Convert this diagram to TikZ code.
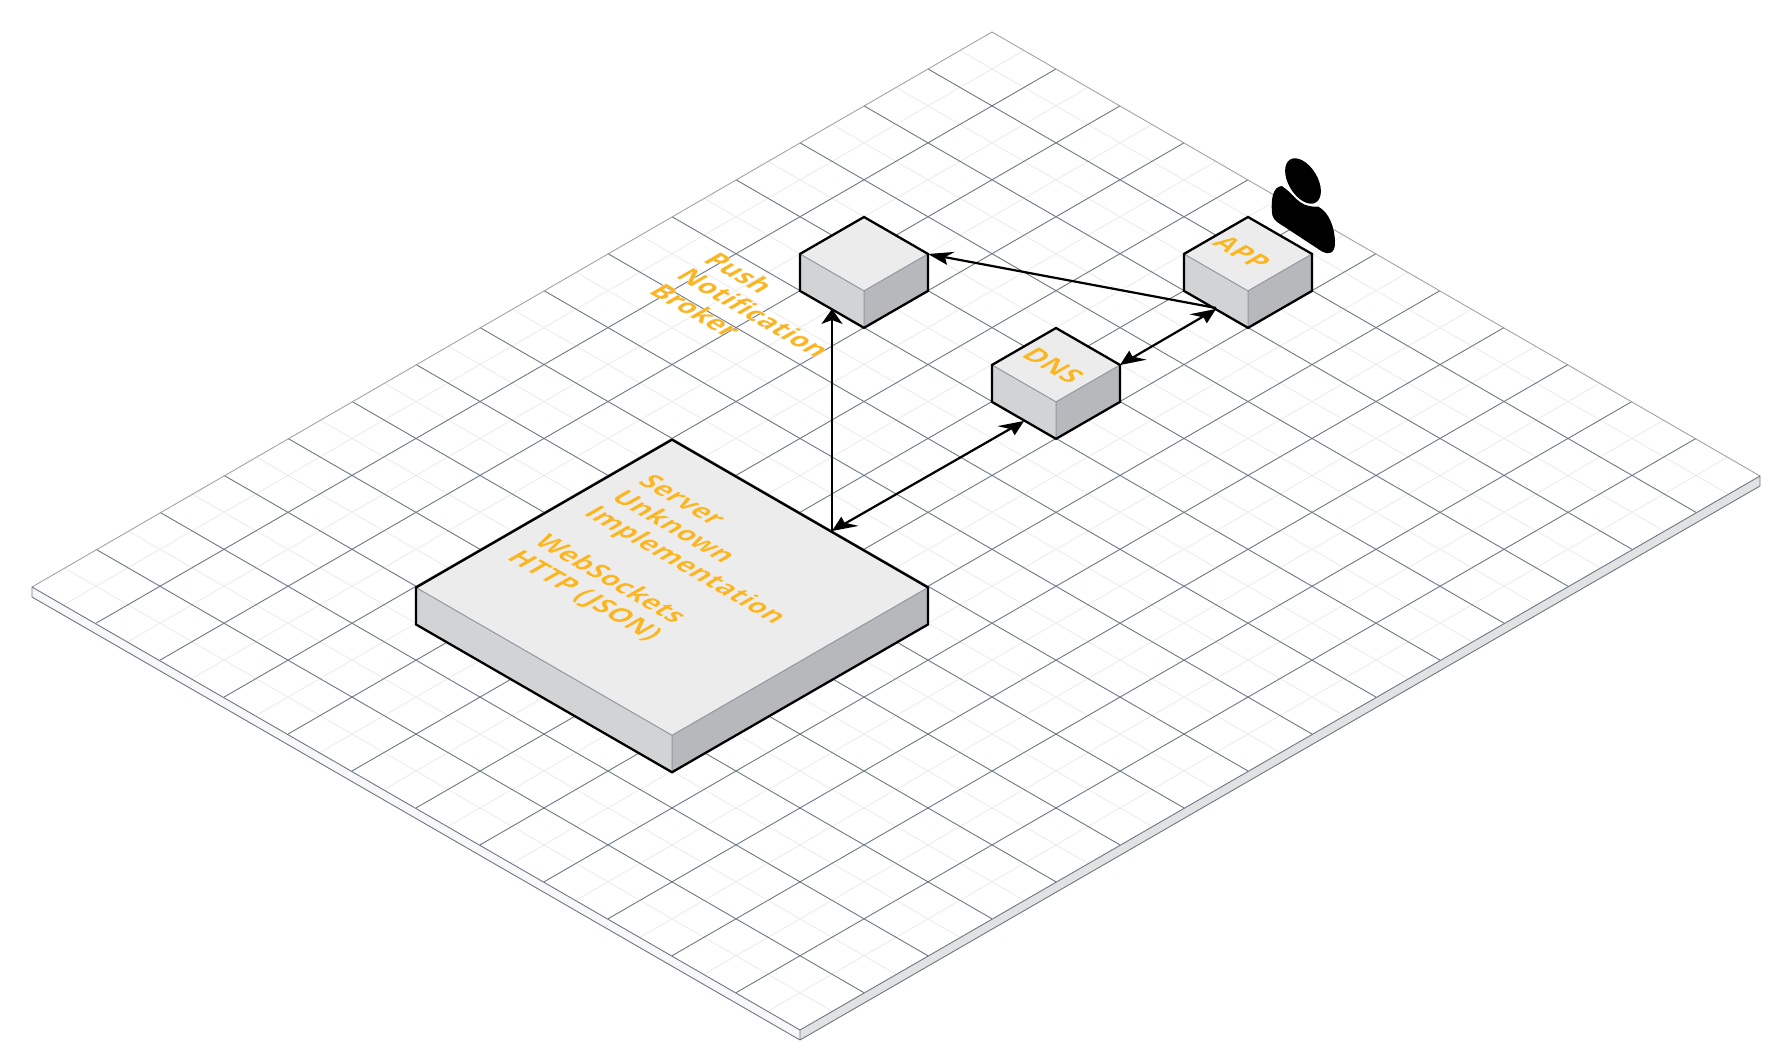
\documentclass[tikz,border=0pt]{standalone}
\usepackage{fontspec}
\setmainfont{Open Sans}
\newfontfamily\isofont{Open Sans}[UprightFont=*/B,UprightFeatures={FakeBold=0.5}]
\usetikzlibrary{arrows.meta}
\definecolor{gmajor}{HTML}{6D7885}
\definecolor{gminor}{HTML}{ECEDEE}
\definecolor{gedge}{HTML}{A0A4A9}
\definecolor{slabL}{HTML}{F8F8F8}
\definecolor{slabR}{HTML}{E1E2E2}
\definecolor{ftop}{HTML}{ECECED}
\definecolor{fleft}{HTML}{D2D3D5}
\definecolor{fright}{HTML}{B7B8BC}
\definecolor{inner}{HTML}{8F98A3}
\newcommand{\labon}{\special{pdf:bcolor [0.98 0.71 0.14] [1 1 1]}}
\newcommand{\laboff}{\special{pdf:ecolor}}
\pgfdeclarearrow{
  name=isoAxis,
  setup code={\pgfarrowssettipend{0pt}\pgfarrowssetlineend{-7pt}\pgfarrowssetbackend{-12.8pt}\pgfarrowssetvisualbackend{-7pt}%
    \pgfarrowshullpoint{0pt}{0pt}\pgfarrowshullpoint{-12.8pt}{4.4pt}\pgfarrowshullpoint{-7.6pt}{-3.9pt}},
  drawing code={\pgfpathmoveto{\pgfqpoint{0pt}{0pt}}\pgfpathlineto{\pgfqpoint{-12.8pt}{4.4pt}}%
    \pgfpathlineto{\pgfqpoint{-7.5pt}{-0.5pt}}\pgfpathlineto{\pgfqpoint{-7.6pt}{-3.9pt}}\pgfpathclose\pgfusepathqfill},
}
\pgfdeclarearrow{
  name=isoUp,
  setup code={\pgfarrowssettipend{0pt}\pgfarrowssetlineend{-5pt}\pgfarrowssetbackend{-7.5pt}\pgfarrowssetvisualbackend{-5pt}%
    \pgfarrowshullpoint{0pt}{0pt}\pgfarrowshullpoint{-7.5pt}{5.3pt}\pgfarrowshullpoint{-7.5pt}{-5.3pt}},
  drawing code={\pgfpathmoveto{\pgfqpoint{0pt}{0pt}}\pgfpathlineto{\pgfqpoint{-7.5pt}{5.3pt}}%
    \pgfpathlineto{\pgfqpoint{-5.5pt}{0pt}}\pgfpathlineto{\pgfqpoint{-7.5pt}{-5.3pt}}\pgfpathclose\pgfusepathqfill},
}
\pgfdeclarearrow{
  name=isoSlant,
  setup code={\pgfarrowssettipend{0pt}\pgfarrowssetlineend{-8.5pt}\pgfarrowssetbackend{-13pt}\pgfarrowssetvisualbackend{-8.5pt}%
    \pgfarrowshullpoint{0pt}{0pt}\pgfarrowshullpoint{-13pt}{-3.5pt}\pgfarrowshullpoint{-10.35pt}{3.6pt}},
  drawing code={\pgfpathmoveto{\pgfqpoint{0pt}{0pt}}\pgfpathlineto{\pgfqpoint{-13pt}{-3.5pt}}%
    \pgfpathlineto{\pgfqpoint{-8.6pt}{-0.1pt}}\pgfpathlineto{\pgfqpoint{-10.35pt}{3.6pt}}\pgfpathclose\pgfusepathqfill},
}
\tikzset{
  x=.5pt,y=-.5pt,
  major/.style={draw=gmajor,line width=.45pt},
  minor/.style={draw=gminor,line width=.45pt},
  edgeback/.style={draw=gedge,line width=.45pt},
  slabface/.style={draw=gmajor,line width=.45pt,line join=round},
  conn/.style={draw=black,line width=1.1pt},
  outline/.style={draw=black,line width=1.15pt,line join=miter},
  innerline/.style={draw=inner,line width=.5pt},
  isotext/.style={transform shape,cm={.866,-.5,.866,.5,(0,0)},inner sep=0pt,
    font=\isofont\fontsize{13.6}{15.7}\selectfont,align=left},
}
% #1 name, #2 top x, #3 top y, #4 cells
\newcommand{\isobox}[4]{%
  \pgfmathsetmacro{\dx}{64*#4}\pgfmathsetmacro{\dy}{36.95*#4}
  \coordinate (#1T) at (#2,#3);
  \coordinate (#1L) at (#2-\dx,#3+\dy);
  \coordinate (#1R) at (#2+\dx,#3+\dy);
  \coordinate (#1F) at (#2,#3+2*\dy);
  \coordinate (#1LB) at (#2-\dx,#3+\dy+36.95);
  \coordinate (#1RB) at (#2+\dx,#3+\dy+36.95);
  \coordinate (#1B) at (#2,#3+2*\dy+36.95);
  \fill[ftop] (#1T)--(#1L)--(#1F)--(#1R)--cycle;
  \fill[fleft] (#1L)--(#1F)--(#1B)--(#1LB)--cycle;
  \fill[fright] (#1R)--(#1F)--(#1B)--(#1RB)--cycle;
  \draw[innerline] (#1L)--(#1F)--(#1R) (#1F)--(#1B);
  \draw[outline] (#1T)--(#1L)--(#1LB)--(#1B)--(#1RB)--(#1R)--cycle;
}
\begin{document}
\begin{tikzpicture}
\useasboundingbox (0,0) rectangle (1792,1063);
\fill[white] (0,0) rectangle (1792,1063);
% slab sides
\coordinate (gT) at (992,32);
\coordinate (gL) at (32,587);
\coordinate (gF) at (800,1030);
\coordinate (gR) at (1760,476);
\coordinate (gLb) at (32,597);
\coordinate (gFb) at (800,1040);
\coordinate (gRb) at (1760,486);
\fill[slabL] (gL)--(gF)--(gFb)--(gLb)--cycle;
\fill[slabR] (gF)--(gR)--(gRb)--(gFb)--cycle;
% grid
\begin{scope}[shift={(992,32)},x={(-32pt,-18.475pt)},y={(32pt,-18.475pt)}]
  \foreach \k in {0,...,14} \draw[minor] (\k+.5,0)--(\k+.5,12);
  \foreach \k in {0,...,11} \draw[minor] (0,\k+.5)--(15,\k+.5);
  \foreach \k in {1,...,14} \draw[major] (\k,0)--(\k,12);
  \foreach \k in {1,...,11} \draw[major] (0,\k)--(15,\k);
\end{scope}
\draw[edgeback] (gL)--(gT)--(gR);
\draw[slabface] (gL)--(gF)--(gR)--(gRb)--(gFb)--(gLb)--cycle (gF)--(gFb);
% boxes
\isobox{server}{672}{439.7}{4}
\isobox{push}{864}{217}{1}
\isobox{dns}{1056}{328}{1}
\isobox{app}{1248}{217}{1}
% person
\fill[black,rotate around={-59:(1303,181)}] (1303,181) ellipse [x radius=25,y radius=14.5];
\fill[black] (1281.7,186) .. controls (1273,187) and (1271.7,198) .. (1271.7,206.7)
  .. controls (1271.7,214) and (1272,218) .. (1277,222)
  -- (1322,251.5) .. controls (1328,255) and (1335,254) .. (1335,243)
  .. controls (1335,228) and (1329,212) .. (1318.3,206.7)
  .. controls (1312,207) and (1305,206) .. (1300,202)
  .. controls (1294,198) and (1291,192) .. (1281.7,186) -- cycle;
% connector ends
\coordinate (appOut) at (1216,308);
\coordinate (appIn) at (1216,309);
\coordinate (pushIn) at (928,254);
\coordinate (pushBot) at (832,309);
\coordinate (dnsUp) at (1120,365);
\coordinate (dnsLow) at (1024,421);
\coordinate (srvA) at (832,531);
\coordinate (srvB) at (832,531);
\draw[conn,-{isoSlant}] (appOut)--(pushIn);
\draw[conn,{isoAxis}-{isoAxis}] (appIn)--(dnsUp);
\draw[conn,{isoAxis}-{isoAxis}] (dnsLow)--(srvB);
\draw[conn,-{isoUp}] (srvA)--(pushBot);
% labels
\node[isotext,anchor=base west] (pushLabel) at (647,292) {\labon Push\\Notification\\Broker\laboff};
\node[isotext,anchor=base west] (serverLabel) at (505,558) {\labon Server\\Unknown\\Implementation\\[13pt]WebSockets\\HTTP (JSON)\laboff};
\node[isotext] (dnsLabel) at (1053,365) {\labon DNS\laboff};
\node[isotext] (appLabel) at (1242,252) {\labon APP\laboff};
\end{tikzpicture}
\end{document}
